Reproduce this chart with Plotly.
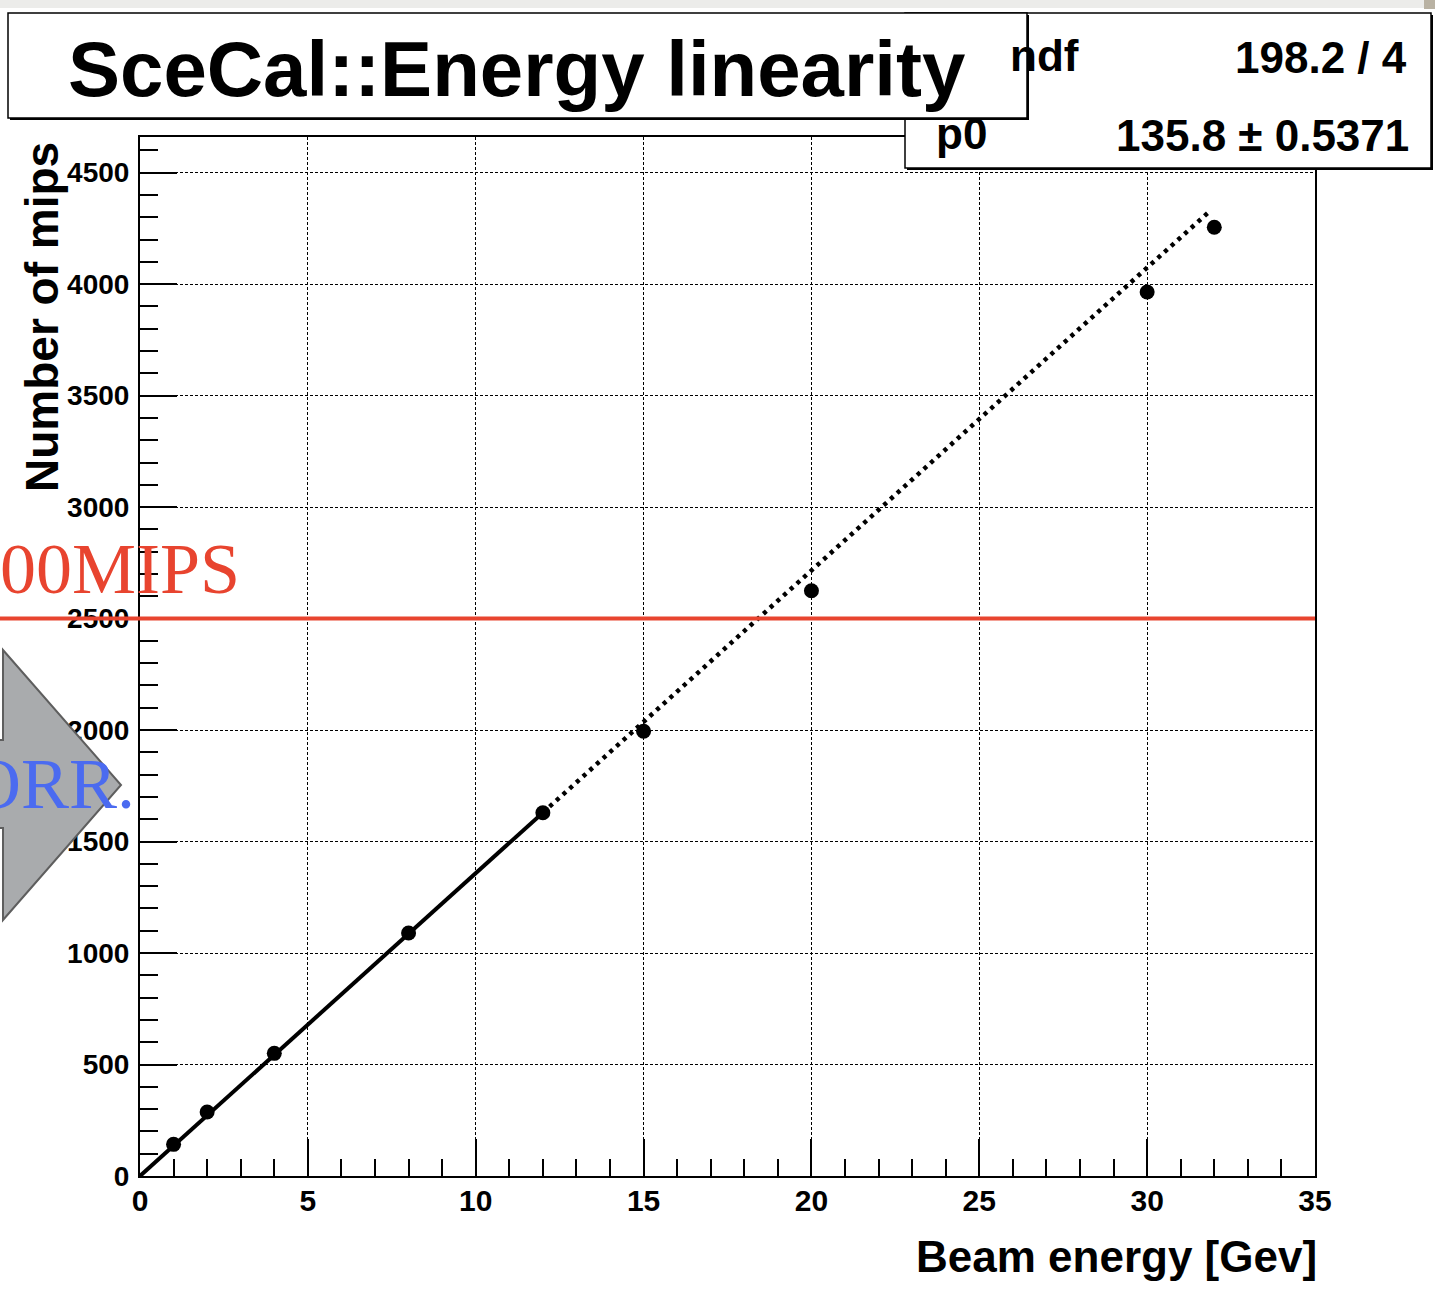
import plotly.graph_objects as go

# ---- data ----
beam_energy = [1, 2, 4, 8, 12, 15, 20, 30, 32]
n_mips = [142, 287, 550, 1090, 1629, 1995, 2625, 3965, 4255]
p0 = 135.8
p0_err = 0.5371
chi2_txt = "198.2 / 4"
fit_x = [0, 12]
extrap_x = [12, 31.8]
threshold = 2500
x_ticks = [0, 5, 10, 15, 20, 25, 30, 35]
y_ticks = [0, 500, 1000, 1500, 2000, 2500, 3000, 3500, 4000, 4500]

W, H = 1435, 1291
L, R, T, B = 140, 1315, 137, 1176


def px(x):
    return (x - L) / (R - L)


def py(y):
    return (B - y) / (B - T)


SANS = "Liberation Sans, Arial, Helvetica, sans-serif"
SERIF = "Liberation Serif, Times New Roman, serif"

fig = go.Figure()

fig.add_trace(go.Scatter(x=fit_x, y=[p0 * v for v in fit_x], mode="lines",
                         line=dict(color="black", width=4), showlegend=False))
fig.add_trace(go.Scatter(x=extrap_x, y=[p0 * v for v in extrap_x], mode="lines",
                         line=dict(color="black", width=4.5, dash="4px,5px"),
                         showlegend=False))
fig.add_trace(go.Scatter(x=beam_energy, y=n_mips, mode="markers",
                         marker=dict(color="black", size=15), showlegend=False))

shapes = []
# top band of the screenshot
shapes.append(dict(type="rect", xref="paper", yref="paper", x0=px(0), x1=px(W),
                   y0=py(0), y1=py(8), fillcolor="#ececea", line=dict(width=0), layer="above"))
shapes.append(dict(type="rect", xref="paper", yref="paper", x0=px(1424), x1=px(W),
                   y0=py(0), y1=py(9), fillcolor="#b9b2a3", line=dict(width=0), layer="above"))
# threshold red line
shapes.append(dict(type="line", xref="paper", yref="y", x0=px(0), x1=1.0,
                   y0=threshold, y1=threshold, line=dict(color="#e8442f", width=4),
                   layer="above"))
# grey arrow
pts = [(-60, 740), (3, 740), (3, 650), (121, 785), (3, 920), (3, 828), (-60, 828)]
path = "M " + " L ".join(f"{px(a):.5f},{py(b):.5f}" for a, b in pts) + " Z"
shapes.append(dict(type="path", xref="paper", yref="paper", path=path,
                   fillcolor="#a9abad", line=dict(color="#5e5e5e", width=2), layer="above"))
# stats box + shadow
shapes.append(dict(type="rect", xref="paper", yref="paper", x0=px(907), x1=px(1433),
                   y0=py(15), y1=py(170), fillcolor="black", line=dict(width=0), layer="above"))
shapes.append(dict(type="rect", xref="paper", yref="paper", x0=px(905), x1=px(1431),
                   y0=py(13), y1=py(168), fillcolor="white",
                   line=dict(color="black", width=1.5), layer="above"))
# title box + shadow
shapes.append(dict(type="rect", xref="paper", yref="paper", x0=px(10), x1=px(1029),
                   y0=py(15), y1=py(120), fillcolor="black", line=dict(width=0), layer="above"))
shapes.append(dict(type="rect", xref="paper", yref="paper", x0=px(8), x1=px(1027),
                   y0=py(13), y1=py(118), fillcolor="white",
                   line=dict(color="black", width=1.5), layer="above"))

ann = []


def text(t, x, y, size, xanchor="center", color="black", family=SANS, weight="bold", angle=0):
    ann.append(dict(text=t, x=px(x), y=py(y), xref="paper", yref="paper",
                    xanchor=xanchor, yanchor="middle", showarrow=False, textangle=angle,
                    font=dict(family=family, size=size, color=color, weight=weight)))


text("SceCal::Energy linearity", 516, 69, 78)
text("ndf", 1081, 56, 44, xanchor="right")
text(chi2_txt, 1409, 58, 44, xanchor="right")
text("p0", 934, 134, 44, xanchor="left")
text(f"{p0} ± {p0_err}", 1411, 136, 44, xanchor="right")
text("Beam energy [Gev]", 1319, 1256, 44, xanchor="right")
text("Number of mips", 42, 317, 46, angle=-90)
text("00MIPS", 242, 569, 72, xanchor="right", color="#e8442f", family=SERIF, weight="normal")
text("ORR.", 137, 784, 72, xanchor="right", color="#4b6bf0", family=SERIF, weight="normal")

axis_common = dict(
    showline=True, linecolor="black", linewidth=2, mirror=True,
    ticks="inside", ticklen=37, tickwidth=2, tickcolor="black",
    showgrid=True, gridcolor="black", gridwidth=1.2, griddash="3px,2px",
    zeroline=False,
)

fig.update_xaxes(range=[0, 35], tickvals=x_ticks, ticktext=[str(v) for v in x_ticks],
                 tickfont=dict(family=SANS, size=30, color="black", weight="bold"),
                 minor=dict(dtick=1, tick0=0, ticks="inside", ticklen=17, tickwidth=2,
                            tickcolor="black", showgrid=False),
                 ticklabelstandoff=-3, **axis_common)
fig.update_yaxes(range=[0, 4660], tickvals=y_ticks, ticktext=[str(v) for v in y_ticks],
                 tickfont=dict(family=SANS, size=28, color="black", weight="bold"),
                 minor=dict(dtick=100, tick0=0, ticks="inside", ticklen=18, tickwidth=2,
                            tickcolor="black", showgrid=False),
                 ticklabelstandoff=3, **axis_common)

fig.update_layout(width=W, height=H, margin=dict(l=L, r=W - R, t=T, b=H - B, autoexpand=False),
                  paper_bgcolor="white", plot_bgcolor="white", shapes=shapes, annotations=ann,
                  showlegend=False)

fig.write_html("out.html")
